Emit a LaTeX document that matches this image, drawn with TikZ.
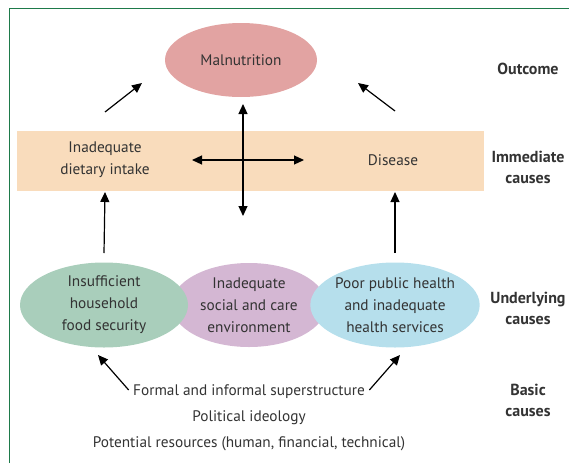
\documentclass[tikz,border=0pt]{standalone}
\usepackage{fontspec}
\setmainfont{PT Sans}
\usetikzlibrary{shapes.geometric,arrows.meta}
\definecolor{framegreen}{HTML}{1E7A4A}
\definecolor{maln}{HTML}{E2A3A2}
\definecolor{immed}{HTML}{F9DCBC}
\definecolor{foodc}{HTML}{A9CEBB}
\definecolor{carec}{HTML}{D4B7D3}
\definecolor{healthc}{HTML}{B6DFEC}
\definecolor{txt}{HTML}{333333}

\begin{document}
\begin{tikzpicture}[x=1pt,y=-1pt,
    every node/.style={text=txt,font=\fontsize{15.3}{22}\selectfont,align=center},
    blob/.style={ellipse,inner sep=0pt},
    level/.style={font=\fontsize{16}{21}\selectfont\bfseries},
    arr/.style={line width=1.2pt,-{Triangle[length=10pt,width=9pt]}},
    darr/.style={line width=1.2pt,{Triangle[length=10pt,width=9pt]}-{Triangle[length=10pt,width=9pt]}}]
    \useasboundingbox (0,0) rectangle (569,463);
    \draw[framegreen,line width=1pt] (9,463) -- (9,8) -- (569,8);

    % immediate causes band
    \fill[immed] (17,131) rectangle (484,191);
    \node (intake) at (105,160) {Inadequate\\dietary intake};
    \node (disease) at (393,160) {Disease};

    % outcome
    \node[blob,fill=maln,minimum width=152pt,minimum height=74pt] (maln) at (241,60) {Malnutrition};

    % underlying causes
    \node[blob,fill=carec,minimum width=155pt,minimum height=84pt] (care) at (249,305) {Inadequate\\social and care\\environment};
    \node[blob,fill=foodc,minimum width=168pt,minimum height=85pt] (food) at (104,305) {Insufficient\\household\\food security};
    \node[blob,fill=healthc,minimum width=165pt,minimum height=85pt] (health) at (395,305) {Poor public health\\and inadequate\\health services};

    % basic causes
    \node (super) at (249,392) {Formal and informal superstructure};
    \node (ideol) at (249,418) {Political ideology};
    \node (resour) at (249,444) {Potential resources (human, financial, technical)};

    % row labels
    \node[level] (outc) at (528,69) {Outcome};
    \node[level] (imm) at (528,167) {Immediate\\causes};
    \node[level] (und) at (528,308) {Underlying\\causes};
    \node[level] (bas) at (528,400) {Basic\\causes};

    % arrows
    \coordinate (ltail) at (105,112);
    \coordinate (lhead) at (142,83);
    \coordinate (rtail) at (395,111);
    \coordinate (rhead) at (358,83);
    \draw[arr] (ltail) -- (lhead);
    \draw[arr] (rtail) -- (rhead);
    \coordinate (vtop) at (243,104);
    \coordinate (vbot) at (243,216);
    \draw[darr] (vtop) -- (vbot);
    \coordinate (hleft) at (192,160);
    \coordinate (hright) at (304,160);
    \draw[darr] (hleft) -- (hright);
    \coordinate (fup) at (105,192);
    \coordinate (hup) at (395,192);
    \draw[arr] (food.north |- 0,253) -- (fup);
    \draw[arr] (health.north |- 0,253) -- (hup);
    \coordinate (bl) at (98,355);
    \coordinate (br) at (400,355);
    \draw[arr] (super.west) ++(-1,-2) -- (bl);
    \draw[arr] (super.east) ++(1,-2) -- (br);
\end{tikzpicture}
\end{document}
